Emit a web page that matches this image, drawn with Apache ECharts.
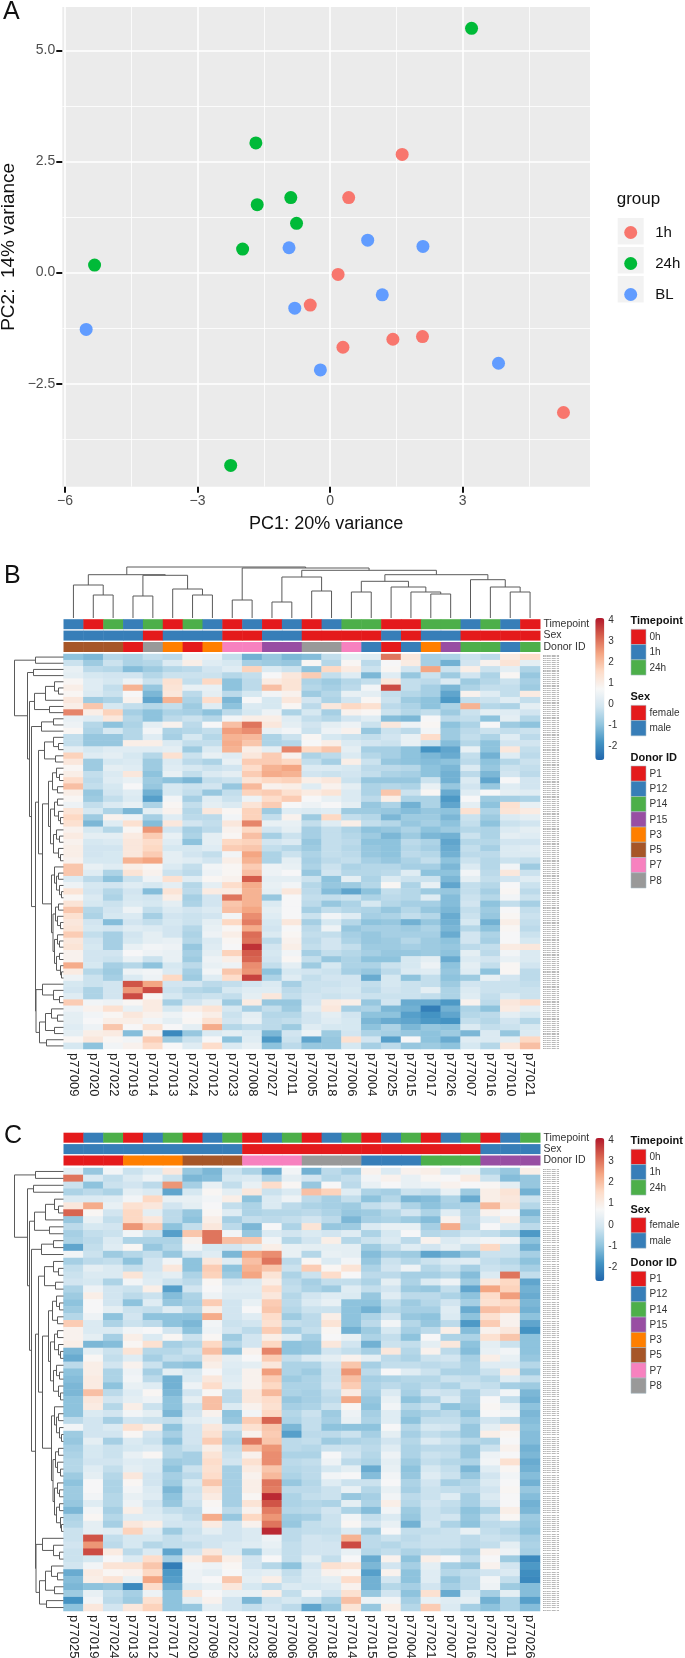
<!DOCTYPE html>
<html>
<head>
<meta charset="utf-8">
<style>html,body{margin:0;padding:0;background:#fff}#chart{width:685px;height:1658px}</style>
<script src="https://cdn.jsdelivr.net/npm/echarts@6/dist/echarts.min.js"></script>
</head>
<body>
<div id="chart"></div>
<script>
// Panel A - PCA points [PC1, PC2]
var pts1h = [[1.63,2.66],[.42,1.69],[.18,-.04],[-.45,-.73],[.29,-1.68],[1.42,-1.5],[2.09,-1.44],[5.28,-3.15]];
var pts24h = [[3.2,5.5],[-1.68,2.92],[-1.65,1.53],[-.89,1.69],[-.76,1.11],[-1.98,.53],[-5.33,.17],[-2.25,-4.34]];
var ptsBL = [[-.93,.56],[.85,.73],[2.1,.59],[1.18,-.5],[-.8,-.8],[-5.52,-1.28],[-.22,-2.19],[3.81,-2.04]];
var xTicks = [-6,-3,0,3], xMinor = [-4.5,-1.5,1.5,4.5];
var yTicks = [-2.5,0,2.5,5], yMinor = [-3.75,-1.25,1.25,3.75];

// Panel B columns and annotations
var samplesB = ['p77009','p77020','p77022','p77019','p77014','p77013','p77024','p77012','p77023','p77008','p77027','p77011','p77005','p77018','p77006','p77004','p77025','p77015','p77017','p77026','p77007','p77016','p77010','p77021'];
var timeB = ['1h','0h','24h','1h','24h','0h','24h','1h','0h','1h','0h','1h','0h','1h','24h','24h','0h','0h','24h','24h','1h','24h','1h','0h'];
var sexB = ['male','male','male','male','female','male','male','male','female','female','male','male','female','female','female','female','male','female','male','male','female','female','female','female'];
var donorB = ['P5','P5','P5','P1','P8','P3','P1','P3','P7','P7','P15','P15','P8','P8','P7','P12','P1','P12','P3','P15','P14','P14','P12','P14'];

// Panel C columns and annotations
var samplesC = ['p77025','p77019','p77024','p77013','p77012','p77017','p77020','p77009','p77022','p77023','p77008','p77006','p77005','p77018','p77014','p77015','p77010','p77004','p77021','p77007','p77016','p77027','p77011','p77026'];
var timeC = ['0h','1h','24h','0h','1h','24h','0h','1h','24h','0h','1h','24h','0h','1h','24h','0h','1h','24h','0h','1h','24h','0h','1h','24h'];
var sexC = ['male','male','male','male','male','male','male','male','male','female','female','female','female','female','female','female','female','female','female','female','female','male','male','male'];
var donorC = ['P1','P1','P1','P3','P3','P3','P5','P5','P5','P7','P7','P7','P8','P8','P8','P12','P12','P12','P14','P14','P14','P15','P15','P15'];

// heat values, one array per column, top row first
var heatB = [
[-1,-.2,.4,.3,.8,1,.8,1.2,1,2.8,.4,.5,.8,-.3,-.3,.3,1.7,1.2,.8,1,1.5,2,1,.8,.5,1.3,1.6,1.4,.9,1.1,.9,1,1,.9,1.9,1.9,.1,.5,1.3,.8,1.3,1.9,1.4,1.2,1.3,1.8,1.2,1.3,.9,.9,2.3,1.1,.5,0,-.1,.2,1.8,.5,.3,.3,.2,.3,.8,0],
[-1.2,-.8,-.4,0,.2,.2,.1,-.8,1.9,1,.2,-.5,-.6,-.9,-.9,0,.2,-.8,-.8,-.3,-.4,-.3,-.9,-.8,-.3,0,-.8,-1.2,0,.3,0,-.1,-.1,0,.4,.2,-.4,0,-.1,.1,0,-.5,-.6,-.1,0,-.3,-.1,0,-.1,-.1,0,-.5,-.2,-.2,-.6,-.6,.6,.9,.6,.7,.5,1,1.2,-1],
[-.5,-.2,-.5,-.1,0,-.3,-.2,-.6,0,1.7,1.2,-1,0,-.9,-.9,.2,.3,0,.3,.1,.2,0,-.1,-.3,.1,-.6,.9,.2,-.5,.3,.1,-.1,0,0,.2,-.6,-1,-.1,-.5,-.6,-.2,-.1,0,-1.1,-.1,-.7,-.7,-.7,-.1,-.2,-.7,-.8,-.7,-.1,-.1,-.1,.5,1.4,.8,1,1.9,1.1,.8,.6],
[-.6,-.6,-1.1,-.1,.5,2.2,.7,.9,-.3,-.7,-.5,-.6,-.5,-.5,1,.2,0,.1,.2,1.2,.4,.7,.2,.1,.4,-1.2,.5,1.4,.8,1.1,1.2,1.2,1.2,2.2,1,1.3,-.2,.2,-.1,0,.1,.5,.1,-.1,.2,-.1,0,.4,.7,.4,-.5,.5,.1,3.4,2.6,3.5,.8,.4,1.2,1,.7,-1.1,.6,.9],
[-.3,-.5,-.8,-.5,-.2,-.9,-1.2,-1.5,-.5,-1,-1,.3,.6,.2,1,.2,-.5,-.8,-.8,-1,-.8,-.9,-1.3,-1.6,-.6,.3,-.7,-1.1,2.6,1.8,1.5,1.6,1.8,2.4,.8,.9,.5,0,-1.1,-.1,0,-.3,-.7,-.3,.1,.3,.3,.6,.5,-.2,-1,.6,.5,2.4,3.5,.8,1.1,1.1,.9,.6,1.4,.9,1.8,1.5],
[-.4,.1,-.5,-.2,1.4,1.3,1.2,2.2,-.3,-.6,-.4,.9,-.6,-.7,.1,.3,1.4,.1,.2,.4,-1,0,0,.6,.8,.9,.2,1.2,-.1,.4,.2,0,.3,.3,.1,-.2,1.4,.3,1.3,1,.3,.1,-.1,0,-.1,-.1,.4,.5,.4,.4,0,.1,1.6,-.1,-.2,0,-.7,0,.5,.3,.7,-2,-.8,.7],
[.5,1,-.4,-.2,-.3,.4,-.4,-.6,-.8,-.7,-.2,-.4,-.5,0,-.3,-.8,-.2,-.4,0,-.3,-1.2,-.2,-.3,-.7,-.3,-.5,-.4,-.1,-.7,-.6,-1,0,-.1,.2,-.3,-.4,.2,-.5,-.4,-.7,-.6,-.1,-.2,-.2,-.5,-.6,-.5,-.9,-.7,-.8,-.4,-.7,-.8,-.1,-.5,-.3,-.1,1,.7,.8,.3,-.9,-.2,.2],
[.4,.2,-.1,-.2,1.6,.4,.3,1.5,.2,-1,-.5,.7,-.3,-.5,-.3,.1,.4,-.6,-.2,.1,-.3,-.1,-.9,.2,.3,1.2,-.4,-.3,-.4,.3,.3,.2,-.3,-.1,.6,.5,.8,.3,1.1,-.1,-.1,.1,-.1,.3,.4,.5,.1,.2,.3,.5,.4,.6,.2,-.4,-.6,-.2,.3,1.3,1,1.4,2.3,.1,.7,1.5],
[-.3,0,.2,-.5,-1,-1,-.4,-1.2,-1,-.4,.6,2,2.5,2.2,2.3,2.2,.2,.4,-.1,.3,-.2,-.9,-.3,-.2,.1,.8,.6,1.2,.9,.8,1.6,1.8,.6,1,.8,.8,.9,1.5,1.1,3,1.9,2,.6,1.6,.8,1,.8,.7,1.7,1,.5,1.9,1.5,-.3,0,-.3,-.8,0,-.2,-.1,-.5,.3,-1,.1],
[-1.3,-.7,1.7,-.3,-.4,-.4,0,.7,.1,0,1,3,2.7,2.1,1.9,1,1.2,1.8,1.5,1.8,1.3,2.1,1.7,.5,1.3,1.7,1.7,2.8,1.6,2,1.7,1.9,2.4,2.2,1.8,2,3.3,2.3,2.2,2.2,2.2,2.4,2.7,2.9,2.3,3.1,3,3.8,3.3,3.2,2.7,2.6,3.6,-.1,.2,.3,1.1,-.7,.3,.4,-.3,.1,.2,.4],
[-.9,-.8,.1,.7,1.1,2,.6,0,0,.5,1,1.2,.4,-.6,-.6,.3,1.8,1.8,2.2,2.3,1.6,.9,1.8,1.5,1.8,-.8,-.3,.4,-.1,-.7,-.1,-.3,-.6,-.6,.5,.5,.3,.4,.3,-.9,.1,.3,.2,0,-.1,.1,-.4,-.1,0,-.1,-.3,-1,-.6,.1,.2,1.2,-.9,-.3,-.5,-.4,-.4,-1.2,-1.7,-1],
[-1.2,-.9,-.2,1.2,1.3,1.3,.9,1.2,.8,-.6,.2,.3,.6,-.2,-.5,2.8,.9,1.6,2.4,2.2,1.7,1,1.4,1.8,.7,.2,.9,.4,.3,-.2,.1,-.5,-.2,.3,.4,.7,.3,.6,1.2,.7,.7,.7,.7,1.2,.7,.8,.9,1,.6,.8,.3,0,.2,-.7,-.4,-.3,-.9,-.8,-.5,-.3,-.8,-.1,-.2,-.4],
[-1.1,.8,-1,1.8,-.6,-.5,-.8,-.1,-.4,0,-.3,-.1,-.2,.8,.7,1.6,-.6,-.3,.1,-.1,1,.2,1.1,.7,.5,.1,-.8,-.3,-.7,-.7,-.9,-.8,-.6,-.7,-.6,-.9,-.2,-.5,-.4,-.3,-.4,-.7,-.2,-.7,-.4,-.3,-.4,-.3,-.7,-.3,-.8,-.1,-.3,-.2,-.2,-.1,-.1,.2,-.1,-.1,.2,.5,-1.5,-.9],
[-.3,-.5,1.6,-.3,-.8,-.7,-.5,-.6,1.2,-.7,-.5,.3,.5,0,1,1.9,-.4,-.7,.1,-.2,1.2,.9,1.3,.4,.7,.2,1.6,.2,-.3,-.3,-.3,-.3,-.3,-.4,-.2,-.1,-1,-.9,-1.1,-.3,-.9,-.3,.6,0,.5,-.3,-.1,-.1,-.3,-.9,0,-.2,-.1,-.2,-.1,-.2,1.1,1.2,.3,.2,0,-.8,-.9,-.9],
[.3,.8,1.1,.2,-.5,-.4,.4,-.1,1.6,.9,-.1,.5,.9,-.2,.1,.3,.1,1,0,-.1,-.2,.3,.1,.1,.3,-.8,-.3,1,-.6,-.5,-.4,-.5,-.4,-.3,-.6,-.5,.3,-.8,-1.5,-.2,-.6,-.5,.2,-.5,-.9,-.7,-.6,-.3,-.5,-.6,-.6,-.7,-.1,-.1,0,-.1,1,-.7,-.1,0,0,-.1,1.4,0],
[.2,-.4,-.2,-1.2,-.3,.6,.3,.8,1.4,.8,.2,-.2,-.9,-.3,-.1,-.7,-.5,-.2,-.4,-.3,-.9,-.6,-.6,-.4,-.9,-.8,-.5,-.3,-1,-.8,-1,-.9,-.9,-.7,-.5,-.5,-.6,-.5,-1,-.6,0,-.6,-.7,-1,-.7,-.9,-.9,-.8,-.7,-1,-.6,-.9,-1.4,-.3,-.4,-.2,-.9,-.6,-1,-1.2,-1,-.6,-.1,-.7],
[3,.7,.8,.2,1.2,3.5,-.3,-.2,-.4,-.2,-1.1,1.2,-.2,-.1,-.2,-.7,-.7,-.9,-.4,-.6,-.9,-.5,1.9,1,-.6,-.9,-1.2,-.5,-.9,-1.2,-1,-1,-1,-.9,-.5,-.4,.1,.8,-.3,-.4,-.5,-.9,-.6,-.9,-.7,-.7,-.8,-.8,-.9,-1,-.2,-.4,0,0,-.1,-.2,-.1,-1.2,-1,-1.4,-.6,-.7,-1.6,-.4],
[1.2,1.1,-.1,-.9,-.3,-.3,-.5,-.8,-.6,-.5,-1.2,.5,-.4,.4,.4,-1,-1,-1,-.5,-.7,-.9,-.6,-.2,-.6,-1.3,-1.1,-.8,-.9,-.6,-.8,-.4,-.5,-.4,-.6,-.7,.2,-.2,-.6,-.5,-.5,-.7,-.5,-.3,-1.3,-.8,-.7,-.5,-.7,-.9,0,0,.1,-1,-.2,-.2,-.2,-1.4,-1.3,-1.6,-1.5,-1.2,-.9,.7,-.9],
[-.7,-.7,2.4,-.2,-.4,-.7,-.7,-1,-1,-.3,.7,.8,.6,1.5,-.2,-1.8,-1.2,-1.1,-1,-1,-.2,.4,.8,-.6,-.6,-.9,-.8,-.7,-1,-1.2,-.6,-.7,-.5,-.3,-.7,-1,-.2,.4,-.8,.2,-.7,-.9,-.5,-.9,-.6,-.7,-.8,-.8,-.8,.3,.5,.2,-.3,-.3,.3,-.3,-1.4,-2.2,-1.8,-1.7,-.9,-1,-1,-.8],
[-.6,-1.3,-.2,-.8,.1,-1.2,-1.5,-1.7,-.6,-.8,-.4,-1,-.8,-.8,-1.1,-1.5,-1.4,-1,-1.2,-1.3,-1.3,-.9,-1.4,-1.7,-1.5,-1,-1.2,-1,-.8,-1.3,-1.5,-1.4,-1.3,-1,-1.2,-1,-1.2,-1.5,-.9,-1.1,-1.1,-1.2,-1.4,-1.3,-1.2,-1.4,-1,-.9,-1,-1.4,-1,-.9,-1,-.8,-.6,-.6,-1.7,-1.3,-1.5,-1.8,-1,-.8,-1.4,-1],
[-.2,-.1,1,-.1,-.8,-.6,.9,-.3,2.2,-.2,-.3,-.6,-.4,-.3,-.5,.4,-.3,-.4,.1,-.4,.1,-.1,.2,.7,.3,1.4,-.2,-.3,-.5,-.2,-.5,-.3,-.4,-.2,.1,.6,.3,-.3,-.3,-.2,-.1,-.3,-.2,0,-.5,-.1,-.1,-.4,.3,.1,.3,.2,-.8,-.1,.1,.2,.9,-.6,-.5,-.3,.1,-1.2,.2,0],
[-.4,.9,-.2,-.6,-.5,-.3,.2,-.2,-.5,.3,-1,.7,-.2,-.6,-1,-1,-1.3,-1,-.9,-1.2,-1.5,-.9,.7,-.8,-1,-.6,-.8,-1,-.6,-.6,-.5,-.7,-.4,-.5,-.5,-.4,-.3,-.5,-.7,-.5,-1,-.8,-.9,-1.3,-1,-.6,-.7,-.3,-.4,-.1,-.3,-1,.4,-.2,-.2,-.3,-.4,-1,-.4,-.5,-.3,.1,.1,-.5],
[1.1,1.3,.3,.8,-.2,-.3,-.3,.2,-.6,.2,.3,-.8,-.3,.2,-.1,1.2,.2,-.5,-.2,-.1,.7,.2,.3,-.7,1.4,1.3,.1,-.2,.1,.3,-.1,.1,.1,-.2,.6,1.2,-.1,.7,.8,.6,-.3,.7,.8,1,.8,.7,.7,1.1,.6,.4,.8,.8,-.1,-.2,-.2,.1,1.2,1.1,.3,-.1,-.2,-.9,.3,1.2],
[1.5,.3,-.6,-.9,-.7,-.8,1.1,-.3,.3,-.1,-.5,-1,-.2,-.4,-.1,-.3,-.4,-.2,-.3,-.4,-.1,-.1,.2,-.6,.4,1.1,.3,-.1,.3,.2,-.1,.2,.1,-.3,-.8,-.2,.2,-.2,-.4,-.2,-.7,-.3,-.2,-.3,-.4,-.2,0,1.2,.1,.1,-.1,-.4,-.4,-.3,-.2,-.2,1.5,.3,0,-.5,0,.1,1.6,2]
];
var heatC = [
[.3,3,-.2,-.6,.1,1.2,3.2,-.9,-.4,-.7,-.6,-1.5,.6,-.7,-.3,-.2,-.1,-.6,-.8,-1,-.8,-.5,1.8,.9,.9,1,-1.2,-1.4,-.4,-1,-1.1,-1.2,-1.2,-1,-1,-1,-.4,.6,-.8,-.9,-.7,-.6,-.5,-.5,-.8,-1,-.8,-.8,-.9,-1.2,-.6,-.5,-.2,-.2,-.1,-.2,-.2,-.1,-1.4,-1.1,-1.2,-.8,-1.8,-1],
[-.9,.1,-1,-.4,.1,2.3,.8,.4,0,-.3,-.4,-.3,-.2,-.4,.3,.1,0,.5,1,.7,.7,.5,.1,.1,.3,-1.2,.3,.8,1,1,1.1,1.1,2,1.2,1.1,.1,-.1,-.1,-.1,.3,0,0,-.1,.2,.3,.7,.7,.6,.2,.6,.8,.3,.3,3.4,2.6,3.5,0,.6,1.1,1,-1,.4,.6,1.2],
[.6,-.3,-.2,-.6,.2,.4,-.1,-.3,-.1,-.2,.1,.2,-.8,-.3,.1,.1,-.6,-.1,-.1,-.1,.3,-1,-.6,.1,-.7,-1.1,-.2,-.3,-.1,-.6,-.6,-1,-.4,-.1,-.5,-.1,-.7,.1,-.1,-.7,-.2,-.2,-.1,-.3,-.5,-.6,-.6,-.5,-.5,-.7,-.5,-.7,.2,-.3,-.4,1.1,.7,1.3,.8,1.3,-.9,-.3,-.4,-.1],
[-.2,.1,-.1,.3,.6,1.4,1.6,1.6,2.6,.6,-.6,.8,-.5,-1,-.3,1.3,.6,-.2,-.4,-1,-.2,-.1,-.2,.6,1,.8,1.3,.2,.9,.5,.6,.4,.2,.3,1,.6,-.1,1.4,.8,.1,0,.4,.2,.3,1.2,.8,.6,.4,.5,1,.2,1.2,1.7,0,0,-.4,.1,1.3,.9,.4,-2,-.7,-.8,1.2],
[.1,.5,-.4,.1,1.6,1.2,.3,1.2,1.8,-.2,-.6,-.9,-.3,-.1,-.1,.1,.2,1,-.2,.2,-.3,-1,-.4,.7,.1,1.4,-.5,-.7,-.2,-.7,-.4,.2,.8,.5,-.2,.3,-.2,1,-.1,-.2,.1,.8,.1,.1,-.1,-.1,.1,.2,-.1,.1,.2,1,.2,0,-.5,.1,1.5,1.9,1.6,2.4,1.5,.5,1.4,1.7],
[1.2,-.2,2.6,-1.5,.4,-.1,-.4,-.4,-1,-1.6,-.6,-.5,-.9,.6,1.2,.3,-.2,-1.6,-1.1,-.9,.2,-1,-1,-.1,.8,-.7,-.5,-.3,-.9,.3,-1.3,-1.3,-1.2,-1,-1,-1.2,-.3,-1,-.7,-1,-.5,-.5,-.8,-1,-.7,-.8,-1.2,-1,-.9,-.3,0,-.1,-.8,-.3,-.3,-1.5,-.7,-2.2,-1.7,-1.6,-1.3,-1,-1,-1],
[-.9,-1.2,-.7,0,.4,.3,-.9,-1,-.3,1.9,.9,.6,-.1,-1,-1,-.6,-.4,-.1,-.6,-.7,-.5,-1,-1.2,-1,-.2,-.5,-.2,-.4,-1,0,.1,.5,-.1,.3,-.2,-.1,.2,-.1,-.1,-.1,-.2,-.7,-.7,-.2,-.4,0,-.2,-.1,-.2,-.4,-.3,-.1,-.2,-.1,-.3,-.1,1,.6,.5,.5,.2,1.3,.3,-.9],
[-1.2,-1.1,.4,.8,.6,.7,.8,1,1.2,3,3,0,.2,1.2,1.8,1.7,.8,.7,.5,1.8,1,2.3,.6,.5,.8,1.6,2,1.2,1,.7,1.2,1.5,.8,2,2,.9,.4,1.2,1.4,1.8,1,1.3,1.5,1.4,1.5,1.9,1.3,1.1,.8,.7,2.3,1.1,.3,-.1,-.1,1.2,1.9,.5,.3,.7,.4,.7,.9,.3],
[-.2,0,-.3,.3,1,-.3,.2,-.7,-.4,.6,2,-.1,-1.2,.2,-1,-.8,-.1,.2,.1,-.1,-.1,-.1,-.2,-.1,-.8,-.5,-1,.3,.2,.1,.2,.3,-.4,-.4,.1,-1,-.9,-.1,-.5,-.6,-.3,-.2,-.1,-.7,-.7,-.7,-.7,-.7,-.7,-.4,-.9,-.1,-.1,-.1,.1,.1,1,.8,.7,1.9,1.2,.4,-.1,-.1],
[-.6,.1,.4,1.2,-1,-.6,-.6,-.3,-1.2,-.9,1.9,.3,2.4,2,2.2,2.4,.1,.2,.1,.4,.7,.2,-.1,-.4,-.1,-.1,.9,.7,.3,.9,.9,.9,1.2,1.2,.9,.6,1.8,1.4,.9,3,2,.9,1.4,1.1,.9,1,1,.8,1.3,.9,1.6,.9,.1,.1,.2,-.8,-.1,-.1,.2,.3,0,.4,-1.2,-.3],
[-1.4,-.6,1.5,-.2,.1,.1,-.5,-.4,.7,.1,.6,1,2.7,3,1.9,1.3,1,1.5,1.2,1.8,1.9,1.5,1.4,1.8,1,1.6,2.8,1.8,1.2,2.5,1.8,1.6,2.1,1.5,1.4,1.6,3.2,1.9,1.8,1.9,2.6,2.7,2.7,1.9,2.1,3,2.9,3.9,3.4,2.9,2.6,3,3.9,.5,.4,.2,.7,-.5,.3,1,-.3,1,-.2,-.1],
[.6,.3,.8,.1,.5,-.4,-.5,-.3,-.6,-.1,-.5,.4,.4,-.4,-.2,-.6,-.4,-.3,-.5,-.4,-.5,-.8,-.3,-.7,.2,-1,-1,-.3,-.6,-.6,-.8,-.6,-.6,-.9,-.7,-.5,-.6,-1.2,-1.6,-.4,-.4,-.6,-.4,-.5,-.6,-.9,-.4,-.6,-.6,-.5,-.8,-.9,-.4,-.4,-.3,-.3,-.3,-1,-.3,-.2,.1,-.3,0,-.4],
[-1.3,-.1,-.9,2,-.4,-.6,-.4,-.1,1.3,.1,-.1,.3,-.5,.8,1.8,-.2,-.7,-.6,-.1,.1,-.2,-.4,-.4,-.3,-.7,-.9,-.9,.1,-.6,-.8,-.6,-.6,-.7,-.7,-.6,-.2,-.3,-.3,-.4,-.3,-.5,-.6,-.3,-.4,-.4,-.5,-.4,-.3,-.5,-.4,-.7,-.3,-.3,-.1,-.1,-.1,.3,-.1,.1,.1,0,.5,-.2,-1.5],
[-.4,-.5,.7,1.7,-.7,-.7,-.6,-.4,-.9,-.1,1,.3,.4,.1,.8,1.5,-.3,-.8,.2,.4,-.2,1,1.3,.8,.7,1.2,-.1,.3,-.1,-.2,-.2,-.1,-.3,-.4,-.2,-.8,-.7,-1,-.4,-.8,-.2,.7,.5,0,.6,.2,-.2,-.2,-.6,-.1,-.2,-.2,-.3,-.2,-.1,-.1,-.3,1.4,.9,.3,.1,-.1,-.6,-.9],
[-.7,-.3,-.4,.2,-.3,-.8,-.9,-1.2,-.8,.2,-.5,.3,.3,.6,1.3,.7,-.3,.2,.1,-1,-1,-1,-1,-1.3,.4,-.1,-.3,.9,1.9,2.6,2,1.8,1.1,2.4,.8,.5,.4,-1,-.2,-.6,-.2,-.1,-.4,.3,.7,-.2,.4,-.9,.3,-.6,.6,.8,.1,2.2,3.5,.4,.7,1.3,.8,1.5,.9,1.4,2,1.3],
[.9,.6,.4,-.6,-1,-.3,-.8,-.7,.1,-.6,-.2,-.8,-1.1,-.9,-.6,-.4,-.6,-.3,-.9,-1,-1.3,-.6,-.4,-.8,-.6,-1.3,-.7,.3,-.7,-.4,-.7,-.6,-.7,-.9,-1,-.7,-.6,-1,-.7,-.5,-.4,-.5,-.6,-1.4,-1.1,-.2,-.5,-.7,-.6,-1.1,-.3,-.1,-.8,-.4,-.4,-.5,-1.4,-1.2,-1.6,-1.3,-1.3,-.9,.5,-.9],
[.1,.9,.7,-.7,-.5,-.1,-.5,-.6,.4,0,.1,-.3,-.7,-.2,-.1,-.4,.3,-.1,.2,-.3,-.5,-.1,.6,0,-.3,-.2,1.2,-.4,-.3,.7,-.6,-.4,.1,.4,.6,.2,.2,.7,.3,-.1,.2,.5,.3,.4,.6,.7,.4,.6,1,.6,.1,.4,.7,-.2,-.5,-.3,.9,-.1,.9,-.1,-.5,-.1,.6,1],
[.9,.4,.4,-.2,-1.2,-.6,-.1,-.8,.4,.7,-.4,.2,-.8,-.5,.5,-.7,-.6,-.8,-.4,-.8,-.7,-.9,-.5,-.7,-1,-.3,-.5,-.6,-.3,.2,-.5,-.6,-.7,-1,-.5,-.8,-1,-.5,-.7,-.5,-.6,-.6,-.8,-1,-.9,-.6,-.7,-.4,-.5,-.8,-.9,-1.3,-.3,-.4,-.3,-.6,-1,-.7,-1,-1,-.7,-1,-.7,-.5],
[1,.8,.5,-.3,-1.1,-1,-.6,-1.1,-.7,-.5,.9,-.1,-1.5,-.2,-.5,-.7,.1,-.9,-.4,-.5,-.7,-1,-.9,-.4,.7,.3,.9,-.2,-.4,-.2,-.5,-.4,-.1,-.6,-.2,-.6,-.3,0,-.3,.1,-.4,-.2,-.3,0,.2,-.1,-.2,-.2,-.1,-.2,-.2,-.1,-.3,-.2,-.2,-.4,1,.3,.2,.2,-.1,1.4,.4,1.8],
[.1,.7,.9,.4,-.6,-.7,.2,.9,2.3,-.4,.1,.3,-1.3,.1,-.2,-.5,.5,-.3,-.6,-.1,.2,.1,-.4,1,-.6,1.2,-.4,-.1,-.3,-.6,-.2,-.6,-.2,.1,-1,-.4,-.3,-.1,-.5,-.2,-.4,-.3,-.5,-.3,-.2,-.7,-.3,.2,-.3,-.4,-.1,-.6,-.2,-.2,-.2,-.5,.7,-.7,-.5,-.9,-.7,-1.4,.2,.1],
[.4,1.1,.7,-.8,-1.4,-.6,-.5,-.4,-.5,-.2,.4,-.2,-.9,.2,-.7,-1.1,-.8,-1.5,-1,-.7,-1.4,-1,-1.7,-1.1,-.6,-1,-1.1,-.7,-.6,-.6,-.3,-.2,-.7,-.7,-.8,-1,-.6,-.9,-.9,-.5,-.9,-.9,-.6,-1.2,-.9,-.5,-.4,-.7,-.7,-1,-.9,-1,.4,-.4,-.4,-.7,-.4,-.9,-.3,-.4,-.4,.1,.3,-.7],
[-.6,-.2,.8,1,1,2.1,.9,.2,.7,-.3,.6,1.6,-.2,-.3,-.2,.1,1.2,2.4,1.5,1.4,2,1.4,1.8,.9,1.4,.3,.4,1,.2,-.2,-.5,-.3,-.1,.7,.8,.7,-.1,.3,1,-.6,-.2,.5,.6,.2,-.1,.1,-.1,.1,-.1,-.6,-.2,-.4,-.3,-.2,-.3,.9,.7,.9,-.1,.6,.5,-.7,-1.3,-1],
[-.9,-1.1,.3,1.3,1.2,1.3,.7,1,.2,-.6,.5,-.2,-.2,-.5,-.3,3,1.6,1.7,2.5,1.6,1.8,.9,.9,1.2,1.9,-.2,.6,.4,.2,1.1,.2,-.7,.6,-.3,.4,.6,-.4,1.1,.8,.7,.9,.7,1.4,.8,.6,.7,.8,.7,.7,1,.8,-.3,-.5,-.3,.3,.5,-.8,-.1,.1,-.3,-.8,.3,-.6,-.6],
[1,-.9,-.9,-1.3,-.2,-.5,-1.2,-.8,-.4,-1.7,-1,-1.3,-.7,-1,-.7,-.3,-1.5,-1.3,-1.4,-1.2,-1.3,-1,-1.5,-1.8,-1,-1,-1,-.9,-.5,-.9,-.3,-.8,-1.2,-1.3,-1,-1.2,-1.1,-1,-1.1,-1.1,-1.3,-1.2,-1.4,-1.3,-1.1,-1.3,-.9,-1.1,-1.3,-1.2,-.8,-.9,-1,-.7,-.6,-.7,-2,-1.7,-1.9,-2,-1.1,-1.1,-1.6,-1.1]
];

// dendrograms: [height, left, right], 0 = leaf
var colTreeB = [51,
  [43.3,[33,0,[23,0,0]],[42.7,[22,0,0],[29,0,[23,0,0]]]],
  [50,[18,0,0],
    [47.7,
      [41,[16,0,0],[27,0,0]],
      [43.3,
        [36.7,[26,0,0],[31,0,[26,0,[24,0,0]]]],
        [38.3,0,[31,0,[26,0,0]]]]]]];
var rowTree = [49,[28,0,0],
  [36,[30,0,0],
    [34,[29,[18,[9,0,[5,0,0]],0],[14,0,0]],
      [32,[22,[10,0,0],0],
        [28,
          [25,[19,[10,0,[5,0,0]],[8,0,0]],
            [21,
              [15,[11,[7,0,[4,0,0]],[6,0,0]],[13,[9,[6,0,0],[5,0,[3,0,0]]],[10,[7,0,[4,0,0]],[5,0,[3,0,0]]]]],
              [12,[9,0,[7,[5,0,0],[4,0,[2,0,0]]]],[10.5,[8,[5,0,0],[6,0,[3,0,0]]],[9,[6,0,[4,0,0]],[7,[4,0,0],[3,0,[2,0,0]]]]]]]],
          [27.5,[21,0,[10,0,[4,0,0]]],[24,[18,[12,0,[6,0,0]],[9,0,0]],[17,0,0]]]]]]]];

var colorTicks = [-2,-1,0,1,2,3,4];
var timeLevels = ['0h','1h','24h'];
var sexLevels = ['female','male'];
var donorLevels = ['P1','P12','P14','P15','P3','P5','P7','P8'];
var rowLabels = [];
for (var i = 0; i < 210; i++) rowLabels.push('hsa-miR-1234-5p');

var levelColor = {'0h':'#E41A1C','1h':'#377EB8','24h':'#4DAF4A',female:'#E41A1C',male:'#377EB8',
  P1:'#E41A1C',P12:'#377EB8',P14:'#4DAF4A',P15:'#984EA3',P3:'#FF7F00',P5:'#A65628',P7:'#F781BF',P8:'#999999'};
var heatColors = ['#2166AC','#4393C3','#92C5DE','#D1E5F0','#F7F7F7','#FDDBC7','#F4A582','#D6604D','#B2182B'];
var font = '"Liberation Sans",Arial,sans-serif';

var chart = echarts.init(document.getElementById('chart'));
var grids = [], xAxes = [], yAxes = [], series = [], visualMaps = [], graphics = [];

var hidden = {show:false};
var noLine = {show:false,onZero:false};
function hideX(o){ o.axisLine=noLine; o.axisTick=hidden; o.axisLabel=o.axisLabel||hidden; o.splitLine=hidden; return o; }

// walk a tree, leaves take positions 0,1,2.. in order
function treeSegments(tree) {
  var segs = [], n = 0;
  function walk(node) {
    if (!node) return {p:n++, h:0};
    var l = walk(node[1]), r = walk(node[2]), h = node[0];
    segs.push([l.p,l.h,l.p,h],[r.p,r.h,r.p,h],[l.p,h,r.p,h]);
    return {p:(l.p+r.p)/2, h:h};
  }
  walk(tree);
  return segs;
}
function segItem(params, api) {
  var a = api.coord([api.value(0),api.value(1)]), b = api.coord([api.value(2),api.value(3)]);
  return {type:'line',shape:{x1:a[0],y1:a[1],x2:b[0],y2:b[1]},style:{stroke:'#5a5a5a',lineWidth:1}};
}
function annoItem(params, api) {
  var c = api.coord([api.value(0),api.value(1)]), s = api.size([1,1]);
  var name = params.seriesName;
  var lv = annoLevels[name][api.value(0)+api.value(1)*24];
  return {type:'rect',shape:{x:c[0]-s[0]/2,y:c[1]-5,width:s[0]+.5,height:10},style:{fill:levelColor[lv]}};
}
var annoLevels = {};

// Panel A
grids.push({left:62.3,top:7,width:527.7,height:479.7,show:true,backgroundColor:'#EBEBEB',borderWidth:0});
xAxes.push({type:'value',gridIndex:0,position:'bottom',min:-6.06,max:5.88,axisLine:noLine,axisTick:{show:false,customValues:xMinor},axisLabel:{show:false,customValues:xMinor},splitLine:{show:true,lineStyle:{color:'#fff',width:.8}}});
xAxes.push({type:'value',gridIndex:0,position:'bottom',min:-6.06,max:5.88,name:'PC1: 20% variance',nameLocation:'middle',nameGap:28,nameTextStyle:{fontFamily:font,fontSize:18,color:'#111'},
  axisLine:noLine,axisTick:{show:true,customValues:xTicks,length:6,lineStyle:{color:'#111',width:2}},
  axisLabel:{customValues:xTicks,color:'#4D4D4D',fontFamily:font,fontSize:14,margin:7,formatter:function(v){return String(v).replace('-','\u2212');}},
  splitLine:{show:true,lineStyle:{color:'#fff',width:1.6}}});
yAxes.push({type:'value',gridIndex:0,position:'left',min:-4.82,max:5.98,axisLine:noLine,axisTick:{show:false,customValues:yMinor},axisLabel:{show:false,customValues:yMinor},splitLine:{show:true,lineStyle:{color:'#fff',width:.8}}});
yAxes.push({type:'value',gridIndex:0,position:'left',min:-4.82,max:5.98,name:'PC2:  14% variance',nameLocation:'middle',nameMoveOverlap:false,nameGap:44,nameTextStyle:{fontFamily:font,fontSize:19,color:'#111'},
  axisLine:noLine,axisTick:{show:true,customValues:yTicks,length:6,lineStyle:{color:'#111',width:2}},
  axisLabel:{customValues:yTicks,color:'#4D4D4D',fontFamily:font,fontSize:14,margin:7,formatter:function(v){return v.toFixed(1).replace('-','\u2212');}},
  splitLine:{show:true,lineStyle:{color:'#fff',width:1.6}}});
[['1h',pts1h,'#F8766D'],['24h',pts24h,'#00BA38'],['BL',ptsBL,'#619CFF']].forEach(function(s){
  series.push({type:'scatter',name:s[0],xAxisIndex:1,yAxisIndex:1,data:s[1],symbolSize:13,itemStyle:{color:s[2],opacity:1},silent:true,z:5});
});

function text(x,y,str,size,opts) {
  opts = opts||{};
  graphics.push({type:'text',z:10,style:{x:x,y:y,text:str,fontFamily:font,fontSize:size,fontWeight:opts.bold?'bold':'normal',fill:opts.fill||'#111',verticalAlign:'middle',align:'left'}});
}
function rect(x,y,w,h,fill,stroke) {
  graphics.push({type:'rect',z:1,shape:{x:x,y:y,width:w,height:h},style:{fill:fill,stroke:stroke||null,lineWidth:stroke?1:0}});
}
text(3,12,'A',25); text(4,576,'B',25); text(4,1136,'C',25);
text(616.7,199,'group',17);
[218,247,276].forEach(function(y){ rect(617.7,y,26,26.5,'#F2F2F2'); });

// heat panel: annotation rows, heat cells, row tree, colour bar, level legends
function addPanel(p) {
  var gi, xi, yi;
  // column tree
  if (p.colTree) {
    gi = grids.length; grids.push({left:63.5,top:p.annoTop-51.5,width:476.5,height:51});
    xi = xAxes.length; xAxes.push(hideX({type:'value',gridIndex:gi,min:-.5,max:23.5}));
    yi = yAxes.length; yAxes.push(hideX({type:'value',gridIndex:gi,min:0,max:51}));
    series.push({type:'custom',xAxisIndex:xi,yAxisIndex:yi,renderItem:segItem,data:treeSegments(p.colTree),silent:true,encode:{x:[0,2],y:[1,3]}});
  }
  // annotation tracks
  gi = grids.length; grids.push({left:63.5,top:p.annoTop,width:476.5,height:34.2});
  xi = xAxes.length; xAxes.push(hideX({type:'category',gridIndex:gi,data:p.samples}));
  yi = yAxes.length; yAxes.push({type:'category',gridIndex:gi,inverse:true,position:'right',data:['Timepoint','Sex','Donor ID'],axisLine:noLine,axisTick:hidden,splitLine:hidden,
    axisLabel:{interval:0,margin:3.5,fontFamily:font,fontSize:10.5,color:'#333'}});
  var annoName = 'anno'+gi, annoData = [];
  annoLevels[annoName] = p.time.concat(p.sex,p.donor);
  for (var c = 0; c < 24; c++) for (var t = 0; t < 3; t++) annoData.push([c,t]);
  series.push({type:'custom',name:annoName,xAxisIndex:xi,yAxisIndex:yi,renderItem:annoItem,data:annoData,silent:true,encode:{x:0,y:1}});
  // heat cells
  gi = grids.length; grids.push({left:63.5,top:p.heatTop,width:476.5,height:p.heatH});
  xi = xAxes.length; xAxes.push({type:'category',gridIndex:gi,data:p.samples,position:'bottom',axisLine:noLine,axisTick:hidden,splitLine:hidden,
    axisLabel:{interval:0,rotate:-90,margin:4,fontFamily:font,fontSize:13,color:'#222'}});
  var rows = p.heat[0].map(function(v,i){return i;});
  yi = yAxes.length; yAxes.push(hideX({type:'category',gridIndex:gi,inverse:true,data:rows}));
  yAxes.push({type:'category',gridIndex:gi,inverse:true,position:'right',data:rowLabels,axisLine:noLine,axisTick:hidden,splitLine:hidden,
    axisLabel:{interval:0,margin:3,fontFamily:font,fontSize:2.1,color:'#555'}});
  var cells = [];
  p.heat.forEach(function(col,cx){ col.forEach(function(v,r){ cells.push([cx,r,v]); }); });
  var heatIdx = series.length;
  series.push({type:'heatmap',xAxisIndex:xi,yAxisIndex:yi,data:cells,progressive:0,silent:true,emphasis:{disabled:true}});
  visualMaps.push({type:'continuous',seriesIndex:heatIdx,min:-2.65,max:4.1,inRange:{color:heatColors},left:595.3,top:p.barTop,itemWidth:9,itemHeight:p.barH,padding:0,text:null,calculable:false,showLabel:false,realtime:false,hoverLink:false});
  // row tree
  gi = grids.length; grids.push({left:14,top:p.heatTop,width:49.5,height:p.heatH});
  xi = xAxes.length; xAxes.push(hideX({type:'value',gridIndex:gi,inverse:true,min:0,max:49.5}));
  yi = yAxes.length; yAxes.push(hideX({type:'value',gridIndex:gi,inverse:true,min:-.5,max:rows.length-.5}));
  series.push({type:'custom',xAxisIndex:xi,yAxisIndex:yi,silent:true,encode:{x:[0,2],y:[1,3]},renderItem:segItem,
    data:treeSegments(rowTree).map(function(s){return [s[1],s[0],s[3],s[2]];})});
  // colour bar ticks
  gi = grids.length; grids.push({left:595.3,top:p.barTop,width:9,height:p.barH});
  xAxes.push(hideX({type:'value',gridIndex:gi,min:0,max:1}));
  yAxes.push({type:'value',gridIndex:gi,min:-2.65,max:4.1,position:'right',axisLine:noLine,axisTick:hidden,splitLine:hidden,
    axisLabel:{customValues:colorTicks,margin:4,fontFamily:font,fontSize:10,color:'#333'}});
  // level legends
  function legend(title,levels,titleY,swatchY) {
    text(630.5,titleY,title,11,{bold:true});
    levels.forEach(function(lv,i){
      rect(631,swatchY+i*15.25,15,15.25,levelColor[lv],'rgba(170,190,200,.55)');
      text(649.5,swatchY+i*15.25+8,lv,10,{fill:'#333'});
    });
  }
  legend('Timepoint',timeLevels,p.leg[0],p.leg[1]);
  legend('Sex',sexLevels,p.leg[2],p.leg[3]);
  legend('Donor ID',donorLevels,p.leg[4],p.leg[5]);
}

addPanel({samples:samplesB,time:timeB,sex:sexB,donor:donorB,heat:heatB,colTree:colTreeB,annoTop:618.5,heatTop:654,heatH:395,barTop:618,barH:142,leg:[621,629.3,697.3,705.3,758,766]});
addPanel({samples:samplesC,time:timeC,sex:sexC,donor:donorC,heat:heatC,annoTop:1132,heatTop:1168,heatH:443,barTop:1138,barH:143,leg:[1141.3,1149.3,1210,1217.7,1263,1271.3]});

// keep every grid at exactly the given box, labels may sit outside it
grids.forEach(function(g){ g.outerBoundsMode = 'none'; });

chart.setOption({
  animation:false,
  textStyle:{fontFamily:font},
  grid:grids, xAxis:xAxes, yAxis:yAxes, series:series, visualMap:visualMaps,
  legend:{show:true,data:['1h','24h','BL'],orient:'vertical',left:624.2,top:225,padding:0,icon:'circle',itemWidth:13,itemHeight:13,itemGap:16,selectedMode:false,
    textStyle:{fontFamily:font,fontSize:15,color:'#111',padding:[0,0,0,13]}},
  graphic:{elements:graphics}
});
</script>
</body>
</html>
